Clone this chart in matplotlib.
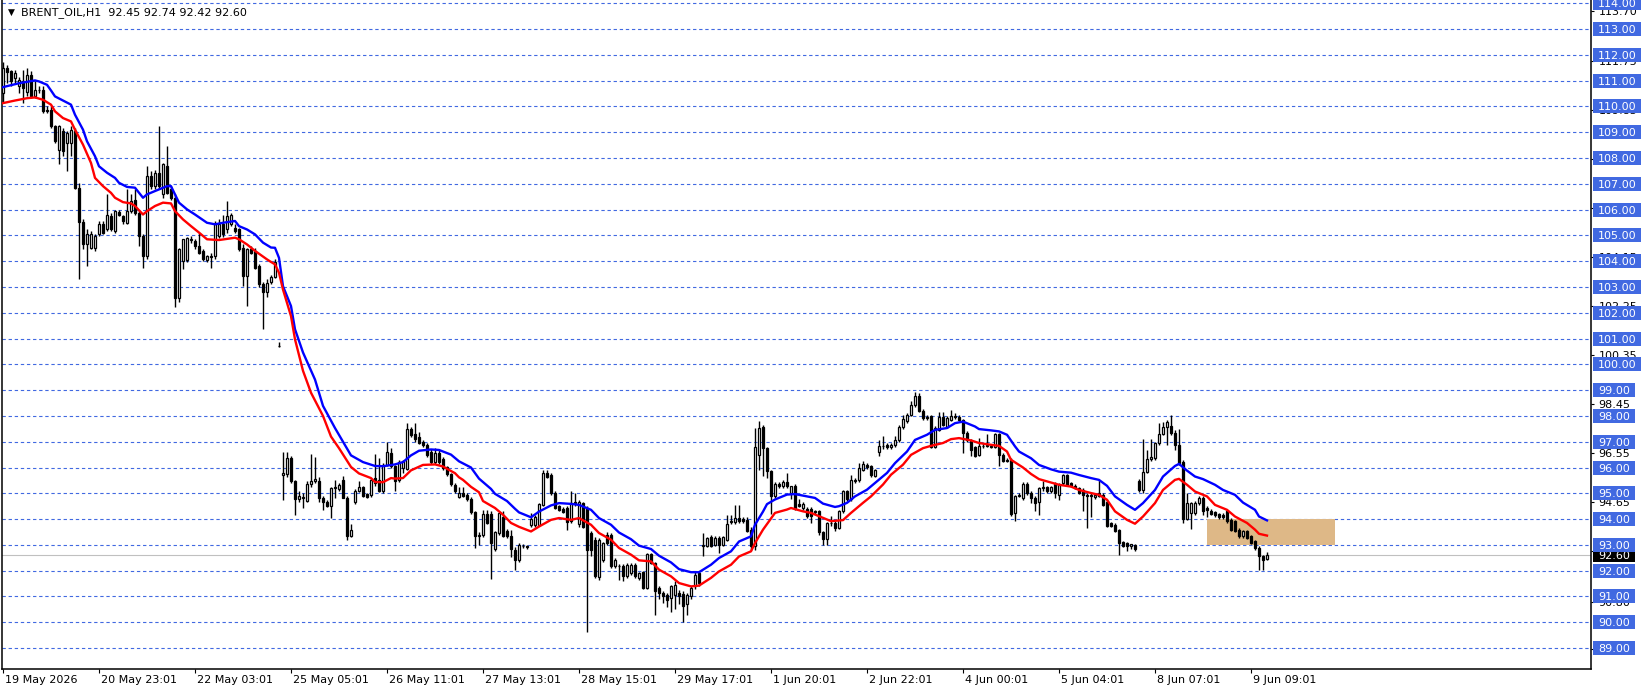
#!/usr/bin/env python3
"""
BRENT_OIL H1 chart (MetaTrader style) - matplotlib recreation
"""
import numpy as np
import matplotlib
matplotlib.use("Agg")
import matplotlib.pyplot as plt
from matplotlib.patches import Rectangle
from matplotlib.transforms import blended_transform_factory, ScaledTranslation

# ---- ローソク足データ (H1, 左から順) ----
opens = [
    110.52, 111.48, 111.36, 111.10, 110.78, 110.97, 110.58, 111.23, 110.39, 110.65,
    110.65, 109.87, 109.87, 109.23, 108.33, 109.04, 108.59, 108.59, 109.04, 106.85,
    105.52, 104.65, 104.53, 104.53, 105.04, 105.43, 105.23, 105.75, 105.17, 105.90,
    105.75, 105.49, 105.94, 106.39, 105.88, 104.98, 104.20, 107.32, 106.91, 107.43,
    106.59, 107.68, 106.78, 106.46, 102.59, 104.01, 104.05, 104.85, 104.78, 104.59,
    104.40, 104.05, 104.20, 104.20, 104.98, 105.43, 105.23, 105.43, 105.30, 105.23,
    104.53, 103.43, 104.46, 104.40, 103.82, 103.11, 102.79, 103.20, 103.40, 100.70,
    95.70, 95.74, 96.36, 95.48, 94.77, 94.85, 94.72, 95.37, 95.46, 95.48,
    94.81, 94.68, 94.52, 95.20, 95.16, 95.52, 94.81, 93.36, 94.68, 95.10,
    95.24, 94.97, 94.94, 95.59, 95.52, 95.07, 96.10, 96.55, 96.06, 95.52,
    95.97, 95.95, 97.48, 97.30, 97.17, 97.00, 96.87, 96.62, 96.23, 96.58,
    96.32, 96.01, 95.74, 95.33, 94.85, 95.01, 94.94, 94.79, 94.27, 93.33,
    93.39, 94.21, 94.21, 92.84, 93.46, 94.10, 93.52, 93.33, 92.81, 92.43,
    92.96, 92.92, 93.78, 93.78, 93.78, 94.55, 95.78, 95.71, 95.00, 94.49,
    94.40, 94.42, 93.91, 94.62, 93.80, 94.62, 94.42, 93.46, 93.20, 91.76,
    92.43, 93.39, 93.39, 92.17, 92.17, 92.19, 91.78, 91.91, 92.23, 91.72,
    91.94, 91.33, 92.64, 92.30, 91.33, 91.14, 91.07, 90.94, 91.07, 91.14,
    91.11, 90.69, 91.01, 91.39, 91.91, 92.95, 92.97, 93.30, 93.01, 93.26,
    93.01, 93.20, 93.88, 93.87, 94.06, 94.00, 93.95, 93.59, 92.94, 96.50,
    97.59, 96.75, 95.85, 94.88, 95.37, 95.27, 95.43, 95.01, 95.27, 94.60,
    94.43, 94.39, 94.39, 94.30, 94.30, 93.49, 93.23, 93.83, 93.85, 93.66,
    94.30, 95.08, 94.78, 95.48, 95.50, 95.91, 96.11, 96.04, 95.68, 96.62,
    96.84, 96.88, 96.79, 96.88, 97.07, 97.59, 97.82, 98.04, 98.43, 98.78,
    98.21, 97.95, 97.98, 96.79, 97.46, 97.95, 97.59, 97.85, 97.98, 97.95,
    97.85, 97.33, 97.01, 96.79, 96.49, 96.84, 96.88, 96.82, 96.79, 97.31,
    96.49, 96.30, 96.30, 94.24, 94.88, 94.80, 95.37, 95.01, 94.81, 94.68,
    95.20, 95.26, 95.07, 95.37, 94.94, 95.39, 95.71, 95.39, 95.29, 95.20,
    95.13, 94.94, 94.94, 94.85, 95.01, 94.94, 94.68, 93.85, 93.78, 93.56,
    93.10, 93.07, 92.94, 92.99, 95.46, 95.13, 95.84, 96.32, 96.36, 96.94,
    97.30, 97.58, 97.61, 97.32, 96.87, 96.23, 94.00, 94.23, 94.23, 94.62,
    94.81, 94.43, 94.32, 94.26, 94.19, 94.17, 94.32, 93.97, 93.91, 93.59,
    93.33, 93.52, 93.33, 93.14, 92.88, 92.56, 92.45,
]
highs = [
    111.74, 111.61, 111.42, 111.42, 111.16, 111.42, 111.48, 111.36, 110.97, 110.78,
    110.78, 110.00, 110.00, 109.30, 109.30, 109.16, 109.04, 109.23, 109.16, 107.04,
    105.62, 105.23, 105.17, 105.04, 105.56, 105.56, 106.59, 105.88, 106.00, 106.00,
    105.81, 106.78, 106.59, 106.78, 105.94, 105.04, 107.68, 107.49, 107.55, 109.23,
    107.81, 108.46, 106.91, 106.59, 104.53, 104.85, 104.95, 104.98, 104.85, 105.11,
    104.46, 104.25, 104.30, 105.56, 105.62, 105.81, 106.33, 105.85, 105.43, 105.30,
    104.65, 104.53, 104.59, 104.50, 103.90, 103.20, 103.30, 103.45, 104.08, 100.88,
    96.62, 96.62, 96.45, 95.52, 95.07, 95.01, 95.46, 96.53, 96.40, 95.65,
    94.88, 94.75, 95.26, 95.52, 95.40, 95.68, 94.88, 93.81, 95.16, 95.48,
    95.30, 95.01, 95.59, 96.53, 96.35, 96.16, 97.00, 96.74, 96.10, 96.29,
    96.30, 97.71, 97.58, 97.71, 97.39, 97.05, 96.95, 96.70, 96.74, 96.68,
    96.40, 96.06, 95.80, 95.40, 95.24, 95.24, 95.00, 94.85, 94.30, 93.50,
    94.34, 94.34, 94.30, 93.55, 94.25, 94.30, 93.60, 93.58, 92.90, 93.07,
    93.05, 93.00, 94.23, 94.15, 94.62, 95.90, 95.90, 95.78, 95.07, 94.55,
    94.45, 94.50, 95.07, 95.00, 94.75, 94.68, 94.50, 93.55, 93.30, 93.25,
    93.10, 93.50, 93.45, 92.50, 92.25, 92.25, 92.30, 92.30, 92.30, 91.95,
    92.00, 92.70, 92.70, 92.35, 91.40, 91.20, 91.15, 91.45, 91.60, 91.25,
    91.20, 91.15, 91.40, 91.95, 92.00, 93.46, 93.30, 93.40, 93.35, 93.35,
    93.35, 94.16, 94.16, 94.55, 94.55, 94.10, 94.10, 93.70, 97.55, 97.80,
    97.65, 96.80, 95.90, 95.45, 95.45, 95.53, 95.79, 95.30, 95.35, 94.76,
    94.65, 94.45, 94.45, 94.36, 94.36, 93.55, 93.90, 94.11, 93.92, 94.35,
    95.14, 95.14, 95.72, 95.60, 96.17, 96.24, 96.18, 96.10, 95.95, 97.07,
    97.23, 96.95, 96.95, 97.23, 97.65, 98.04, 98.11, 98.56, 98.94, 98.90,
    98.25, 98.04, 98.05, 97.60, 98.17, 98.17, 97.98, 98.23, 98.11, 98.05,
    97.90, 97.40, 97.10, 96.85, 97.14, 96.95, 97.31, 96.90, 97.35, 97.35,
    96.55, 96.35, 96.35, 94.95, 95.00, 95.45, 95.45, 95.07, 94.88, 95.26,
    95.46, 95.30, 95.30, 95.42, 95.40, 95.75, 95.75, 95.45, 95.35, 95.25,
    95.20, 95.00, 95.00, 94.98, 95.52, 95.00, 94.75, 93.90, 93.85, 93.62,
    93.15, 93.12, 93.05, 93.05, 95.55, 97.09, 96.68, 97.09, 96.98, 97.74,
    97.78, 97.84, 98.03, 97.45, 97.48, 96.30, 95.01, 94.65, 94.70, 94.90,
    94.88, 94.50, 94.40, 94.32, 94.25, 94.22, 94.36, 94.05, 93.97, 93.65,
    93.58, 93.58, 93.40, 93.20, 92.95, 92.62, 92.74,
]
lows = [
    110.13, 110.90, 110.78, 110.90, 110.52, 110.13, 110.39, 110.32, 110.32, 110.52,
    109.74, 109.74, 109.16, 108.59, 107.75, 108.07, 107.49, 108.07, 106.78, 103.30,
    104.46, 103.82, 104.46, 104.40, 104.98, 105.04, 105.17, 105.17, 105.11, 105.75,
    105.43, 105.43, 105.88, 105.81, 104.59, 103.75, 104.07, 106.78, 106.78, 106.78,
    106.46, 106.59, 106.39, 102.21, 102.40, 103.69, 103.95, 104.72, 104.46, 104.27,
    104.01, 103.95, 103.75, 104.10, 104.90, 104.95, 105.11, 105.36, 105.11, 104.40,
    103.04, 102.27, 104.27, 103.69, 102.98, 101.37, 102.60, 103.10, 103.35, 100.68,
    94.75, 95.65, 95.39, 94.17, 94.68, 94.43, 94.68, 95.26, 95.40, 94.68,
    94.36, 94.45, 94.04, 94.81, 95.10, 94.81, 93.20, 93.30, 94.60, 95.05,
    94.85, 94.80, 94.85, 95.30, 95.05, 95.00, 96.04, 95.97, 95.07, 95.45,
    95.78, 95.90, 97.20, 97.00, 96.90, 96.80, 96.40, 96.15, 96.15, 96.15,
    95.90, 95.68, 95.30, 95.00, 94.80, 94.85, 94.70, 94.20, 92.88, 93.01,
    93.30, 93.80, 91.69, 92.75, 93.40, 93.30, 93.25, 92.52, 92.04, 92.35,
    92.88, 92.85, 93.71, 93.70, 93.72, 94.50, 95.60, 94.95, 94.40, 94.30,
    94.25, 93.59, 93.85, 94.50, 93.70, 93.65, 89.62, 92.55, 91.70, 91.65,
    92.35, 93.00, 92.10, 92.10, 91.65, 91.59, 91.70, 91.85, 91.72, 91.65,
    91.30, 91.28, 92.25, 90.30, 90.90, 90.75, 90.60, 90.40, 90.50, 90.70,
    90.00, 90.30, 90.90, 91.30, 91.40, 92.55, 92.90, 92.90, 92.95, 92.68,
    92.95, 93.15, 93.80, 93.80, 93.85, 93.85, 93.50, 92.81, 92.80, 95.90,
    95.66, 95.60, 94.18, 94.80, 95.20, 95.20, 95.20, 94.76, 94.37, 94.45,
    94.35, 94.05, 93.85, 94.20, 93.40, 93.00, 93.00, 93.72, 93.53, 93.60,
    94.25, 94.70, 94.70, 95.40, 95.45, 95.85, 95.95, 95.65, 95.62, 96.43,
    96.70, 96.70, 96.70, 96.80, 97.00, 97.50, 97.72, 97.98, 98.35, 98.15,
    97.85, 97.85, 96.75, 96.75, 97.40, 97.60, 97.55, 97.80, 97.90, 97.80,
    96.56, 97.00, 96.43, 96.40, 96.45, 96.75, 96.78, 96.75, 96.75, 96.04,
    96.20, 96.20, 94.11, 93.92, 94.85, 94.75, 94.95, 94.62, 94.30, 94.17,
    95.10, 95.00, 95.00, 94.81, 94.75, 95.33, 95.28, 95.25, 95.15, 94.98,
    94.30, 93.65, 94.10, 94.78, 94.85, 94.50, 93.70, 93.68, 93.48, 92.62,
    92.90, 92.75, 92.85, 92.78, 95.05, 95.01, 95.78, 96.25, 96.30, 96.88,
    97.25, 96.87, 97.25, 96.68, 96.10, 93.85, 93.95, 93.61, 94.15, 94.55,
    94.17, 94.10, 94.15, 94.10, 94.00, 94.02, 93.85, 93.52, 93.48, 93.28,
    93.28, 93.22, 93.02, 92.82, 92.02, 92.02, 92.42,
]
closes = [
    111.48, 111.32, 110.97, 111.29, 111.03, 110.71, 111.23, 110.39, 110.65, 110.62,
    109.81, 109.81, 109.23, 108.65, 109.23, 108.26, 108.97, 109.10, 106.85, 105.52,
    104.65, 105.04, 105.04, 104.98, 105.43, 105.11, 105.81, 105.23, 105.94, 105.78,
    105.56, 105.94, 106.33, 105.88, 104.98, 104.20, 107.30, 106.91, 107.43, 106.91,
    107.75, 106.65, 106.46, 102.59, 104.46, 104.85, 104.89, 104.82, 104.59, 104.33,
    104.07, 104.20, 104.18, 105.43, 105.43, 105.04, 105.75, 105.78, 105.17, 104.46,
    103.43, 104.46, 104.33, 103.75, 103.11, 102.79, 103.17, 103.40, 103.98, 100.72,
    95.78, 96.36, 95.46, 94.77, 94.88, 94.80, 95.37, 95.46, 95.55, 94.80,
    94.68, 94.52, 95.20, 95.22, 95.33, 94.81, 93.33, 93.59, 95.10, 95.24,
    94.88, 94.85, 95.52, 95.39, 95.10, 96.10, 96.62, 96.04, 95.46, 96.23,
    96.27, 97.48, 97.26, 97.09, 96.96, 96.87, 96.49, 96.23, 96.55, 96.23,
    95.97, 95.74, 95.35, 95.07, 95.01, 94.88, 94.77, 94.26, 93.33, 93.39,
    94.19, 93.85, 93.07, 93.48, 94.23, 93.36, 93.33, 92.84, 92.43, 93.01,
    92.94, 92.91, 94.00, 94.10, 94.58, 95.78, 95.65, 95.00, 94.42, 94.36,
    94.29, 93.87, 94.62, 94.66, 94.68, 93.71, 92.81, 92.81, 91.78, 93.20,
    93.07, 93.07, 92.17, 92.43, 92.19, 91.78, 92.23, 92.23, 91.78, 91.91,
    91.33, 92.64, 92.30, 91.20, 91.14, 91.01, 90.88, 91.39, 91.45, 91.01,
    90.62, 91.07, 91.33, 91.85, 91.52, 92.97, 93.26, 92.97, 93.26, 93.01,
    93.29, 93.82, 93.91, 94.06, 93.91, 93.91, 93.52, 92.94, 96.80, 97.55,
    96.75, 95.85, 94.88, 95.37, 95.27, 95.43, 95.27, 95.27, 94.43, 94.50,
    94.60, 94.11, 94.11, 94.27, 93.49, 93.23, 93.83, 93.85, 93.66, 94.30,
    95.08, 94.78, 95.50, 95.50, 95.98, 96.13, 96.01, 95.72, 95.89, 96.84,
    96.82, 96.79, 96.88, 97.07, 97.59, 97.87, 98.04, 98.43, 98.78, 98.21,
    97.91, 97.93, 96.79, 97.53, 97.95, 97.65, 97.91, 97.98, 97.96, 97.85,
    97.33, 97.07, 96.69, 96.46, 96.84, 96.82, 96.82, 96.80, 97.31, 96.49,
    96.24, 96.24, 94.18, 94.91, 94.95, 95.37, 95.01, 94.81, 94.62, 95.20,
    95.22, 95.07, 95.24, 95.01, 95.33, 95.71, 95.33, 95.29, 95.20, 95.03,
    94.94, 94.88, 94.88, 94.94, 94.90, 94.55, 93.74, 93.72, 93.52, 93.07,
    92.97, 92.94, 93.03, 92.84, 95.13, 95.84, 96.32, 96.40, 96.94, 97.30,
    97.58, 97.78, 97.32, 96.87, 96.16, 94.00, 94.62, 94.62, 94.62, 94.81,
    94.30, 94.34, 94.21, 94.17, 94.08, 94.08, 93.91, 93.59, 93.52, 93.33,
    93.52, 93.27, 93.07, 92.88, 92.56, 92.43, 92.60,
]

# ---- 移動平均線 (チャートから読み取り: バー番号 / 価格) ----
blue_bars = [0, 4, 8, 9, 11, 12, 13, 15, 17, 18, 20, 21, 23, 24, 26, 28, 29, 31, 33, 35,
             36, 38, 41, 42, 43, 44, 46, 48, 51, 53, 55, 58, 59, 61, 63, 65, 67, 68, 69, 70,
             72, 73, 75, 78, 80, 83, 85, 87, 90, 93, 95, 98, 100, 102, 104, 107, 109, 112, 114, 117,
             119, 122, 123, 126, 128, 129, 132, 134, 137, 139, 142, 144, 147, 149, 152, 154, 157, 159, 162, 164,
             167, 169, 172, 174, 177, 179, 182, 184, 187, 188, 190, 191, 193, 196, 198, 201, 203, 205, 208, 209,
             211, 213, 216, 218, 221, 223, 226, 228, 231, 233, 236, 238, 240, 243, 244, 247, 249, 251, 253, 254,
             257, 259, 262, 264, 267, 269, 272, 274, 276, 278, 281, 283, 285, 288, 290, 293, 294, 296, 298, 300,
             303, 305, 308, 310, 313, 314, 316]
blue_vals = [110.75, 110.90, 111.01, 110.97, 110.84, 110.62, 110.39, 110.23, 110.07, 109.68,
             109.10, 108.65, 108.07, 107.68, 107.43, 107.23, 107.04, 106.88, 106.85, 106.46,
             106.59, 106.72, 106.91, 106.91, 106.59, 106.27, 106.01, 105.81, 105.49, 105.43,
             105.49, 105.56, 105.36, 105.23, 105.04, 104.72, 104.53, 104.52, 104.13, 103.03,
             102.26, 101.36, 100.46, 99.41, 98.39, 97.53, 97.00, 96.47, 96.21, 96.06,
             96.05, 96.12, 96.21, 96.47, 96.65, 96.70, 96.68, 96.50, 96.24, 96.00,
             95.57, 95.17, 94.98, 94.70, 94.40, 94.26, 94.07, 94.29, 94.53, 94.62,
             94.59, 94.55, 94.36, 94.04, 93.78, 93.48, 93.22, 92.97, 92.84, 92.58,
             92.32, 92.06, 91.94, 91.94, 92.23, 92.49, 92.75, 93.13, 93.33, 93.78,
             94.29, 94.58, 94.76, 94.95, 94.97, 94.88, 94.82, 94.60, 94.47, 94.50,
             94.63, 94.88, 95.14, 95.40, 95.79, 96.17, 96.62, 97.07, 97.27, 97.46,
             97.53, 97.72, 97.78, 97.59, 97.49, 97.44, 97.40, 97.27, 96.82, 96.62,
             96.36, 96.10, 95.93, 95.84, 95.80, 95.71, 95.59, 95.52, 95.29, 94.88,
             94.55, 94.36, 94.62, 95.13, 95.65, 96.06, 96.14, 95.88, 95.65, 95.55,
             95.33, 95.13, 94.94, 94.64, 94.36, 94.10, 93.95]
red_bars = [0, 3, 6, 8, 10, 12, 13, 15, 17, 18, 20, 22, 23, 25, 27, 28, 30, 32, 33, 35,
            36, 38, 40, 42, 43, 45, 47, 49, 51, 54, 58, 59, 61, 63, 66, 67, 68, 69, 70, 72,
            73, 75, 77, 80, 82, 84, 87, 89, 92, 93, 95, 97, 98, 100, 102, 105, 108, 110, 111, 113,
            114, 115, 117, 119, 120, 123, 125, 127, 129, 132, 134, 137, 139, 142, 144, 147, 149, 152, 154, 157,
            159, 162, 164, 167, 169, 172, 174, 177, 179, 182, 184, 187, 188, 190, 192, 193, 196, 197, 200, 202,
            205, 207, 210, 212, 215, 217, 220, 222, 225, 227, 230, 232, 235, 237, 239, 242, 244, 247, 249, 251,
            252, 255, 257, 259, 262, 264, 267, 269, 272, 274, 276, 278, 281, 283, 285, 288, 290, 293, 294, 296,
            298, 301, 303, 306, 308, 311, 313, 314, 316]
red_vals = [110.13, 110.23, 110.32, 110.35, 110.26, 110.07, 109.81, 109.55, 109.42, 109.10,
            108.52, 107.81, 107.23, 106.91, 106.65, 106.46, 106.29, 106.24, 106.14, 105.81,
            105.94, 106.14, 106.27, 106.24, 105.94, 105.62, 105.36, 105.11, 104.85, 104.82,
            104.91, 104.85, 104.65, 104.40, 104.07, 103.97, 103.88, 103.55, 102.90, 101.87,
            100.97, 99.75, 98.90, 98.00, 97.20, 96.75, 96.02, 95.77, 95.59, 95.44,
            95.43, 95.59, 95.57, 95.59, 95.89, 96.10, 96.12, 96.04, 95.95, 95.78,
            95.62, 95.52, 95.25, 95.04, 94.70, 94.43, 94.17, 93.85, 93.70, 93.52,
            93.71, 93.97, 94.04, 93.97, 94.04, 93.78, 93.46, 93.20, 92.88, 92.62,
            92.40, 92.36, 92.04, 91.78, 91.52, 91.39, 91.42, 91.72, 91.97, 92.23,
            92.55, 92.75, 93.07, 93.59, 94.02, 94.24, 94.37, 94.43, 94.30, 94.24,
            94.05, 93.92, 93.96, 94.24, 94.63, 94.88, 95.34, 95.72, 96.11, 96.49,
            96.75, 96.84, 96.95, 97.10, 97.14, 97.05, 96.95, 96.88, 96.84, 96.62,
            96.30, 96.00, 95.75, 95.55, 95.42, 95.33, 95.26, 95.13, 95.01, 94.94,
            94.75, 94.30, 93.97, 93.82, 94.10, 94.62, 95.13, 95.52, 95.56, 95.33,
            95.07, 94.88, 94.55, 94.36, 94.10, 93.85, 93.59, 93.43, 93.36]

# ---- オブジェクト / 軸ラベル ----
hline_levels = list(range(89, 115))          # 水平線 (1ドル毎)
scale_levels = [113.70, 111.75, 109.85, 107.95, 106.05, 104.15, 102.25,
                100.35, 98.45, 96.55, 94.65, 92.75, 90.80, 88.95]
zone_start_bar, zone_end_bar = 301, 333       # 矩形オブジェクト
zone_low, zone_high = 93.00, 94.00
time_labels = ["19 May 2026", "20 May 23:01", "22 May 03:01", "25 May 05:01",
               "26 May 11:01", "27 May 13:01", "28 May 15:01", "29 May 17:01",
               "1 Jun 20:01", "2 Jun 22:01", "4 Jun 00:01", "5 Jun 04:01",
               "8 Jun 07:01", "9 Jun 09:01"]
BARS_PER_LABEL = 24
SYMBOL = "BRENT_OIL,H1"

ROYAL = "#4169E1"
W, H = 1641, 693


def main():
    o, h, l, c = (np.array(v, dtype=float) for v in (opens, highs, lows, closes))
    x = np.arange(len(o))

    fig = plt.figure(figsize=(W / 100, H / 100), dpi=100)
    fig.patch.set_facecolor("white")
    ax = fig.add_axes([2 / W, 24 / H, 1589 / W, 669 / H])
    ymin, ymax = 88.187, 114.128
    ax.set_xlim(-0.25, 397)
    ax.set_ylim(ymin, ymax)
    px = 669 / (ymax - ymin)   # 1価格あたりのピクセル

    # 水平線
    for lv in hline_levels:
        ax.axhline(lv, color=ROYAL, lw=0.8, dashes=(3, 2.5), zorder=1)
    # 現在値ライン
    ax.axhline(c[-1], color="#C0C0C0", lw=0.8, zorder=1.2)
    # 矩形
    ax.add_patch(Rectangle((zone_start_bar, zone_low), zone_end_bar - zone_start_bar,
                           zone_high - zone_low, fc="#DEB887", ec="none", zorder=1.5))

    # ローソク足
    ax.vlines(x, l, h, color="black", lw=1.0, zorder=3)
    up = c >= o
    body_lo = np.minimum(o, c)
    body_h = np.maximum(np.abs(c - o), 0.03)
    ax.bar(x[up], body_h[up], bottom=body_lo[up], width=0.55, color="white",
           edgecolor="black", lw=0.9, zorder=4)
    ax.bar(x[~up], body_h[~up], bottom=body_lo[~up], width=0.55, color="black",
           edgecolor="black", lw=0.9, zorder=4)

    # 移動平均線
    ax.plot(blue_bars, blue_vals, color="#0000FF", lw=1.7, zorder=5, solid_joinstyle="round")
    ax.plot(red_bars, red_vals, color="#FF0000", lw=1.7, zorder=5, solid_joinstyle="round")

    # 枠
    ax.spines["top"].set_visible(False)
    for s in ("left", "right", "bottom"):
        ax.spines[s].set_linewidth(1.1)

    # 価格軸 (右)
    ax.yaxis.tick_right()
    ax.set_yticks(scale_levels, [f"{v:.2f}" for v in scale_levels])
    ax.tick_params(axis="y", direction="out", length=2.5, width=0.8, pad=3,
                   labelsize=8, colors="black")

    # 時間軸
    ax.set_xticks([k * BARS_PER_LABEL for k in range(len(time_labels))])
    ax.tick_params(axis="x", direction="out", length=3, width=0.8, labelbottom=False)
    tb = blended_transform_factory(ax.transData, ax.transAxes)
    off = ScaledTranslation(2 / 100, -6 / 100, fig.dpi_scale_trans)
    for k, lab in enumerate(time_labels):
        ax.text(k * BARS_PER_LABEL, 0, lab, transform=tb + off, ha="left", va="top",
                fontsize=8, clip_on=False)

    # 価格ラベル (水平線)
    tf = blended_transform_factory(fig.transFigure, ax.transData)
    half = 7 / px
    ax.add_artist(Rectangle((1593 / W, c[-1] - half), 42 / W, 2 * half, transform=tf,
                            fc="black", ec="none", clip_on=False, zorder=5.5))
    ax.text(1598 / W, c[-1], f"{c[-1]:.2f}", transform=tf, color="white", fontsize=8,
            ha="left", va="center_baseline", clip_on=False, zorder=5.6)
    for lv in hline_levels:
        right = 1641 if lv >= 100 else 1635
        ax.add_artist(Rectangle((1593 / W, lv - half), (right - 1593) / W, 2 * half,
                                transform=tf, fc=ROYAL, ec="none", clip_on=False, zorder=6))
        ax.text(1598 / W, lv, f"{lv:.2f}", transform=tf, color="white", fontsize=8,
                ha="left", va="center_baseline", clip_on=False, zorder=7)

    # タイトル
    fig.text(11 / W, 1 - 12 / H, "\u25bc", fontsize=6.5, ha="center", va="center")
    fig.text(21 / W, 1 - 13 / H,
             f"{SYMBOL}  {o[-1]:.2f} {h[-1]:.2f} {l[-1]:.2f} {c[-1]:.2f}",
             fontsize=8, ha="left", va="center")

    fig.savefig("out.png", dpi=100)


if __name__ == "__main__":
    main()
